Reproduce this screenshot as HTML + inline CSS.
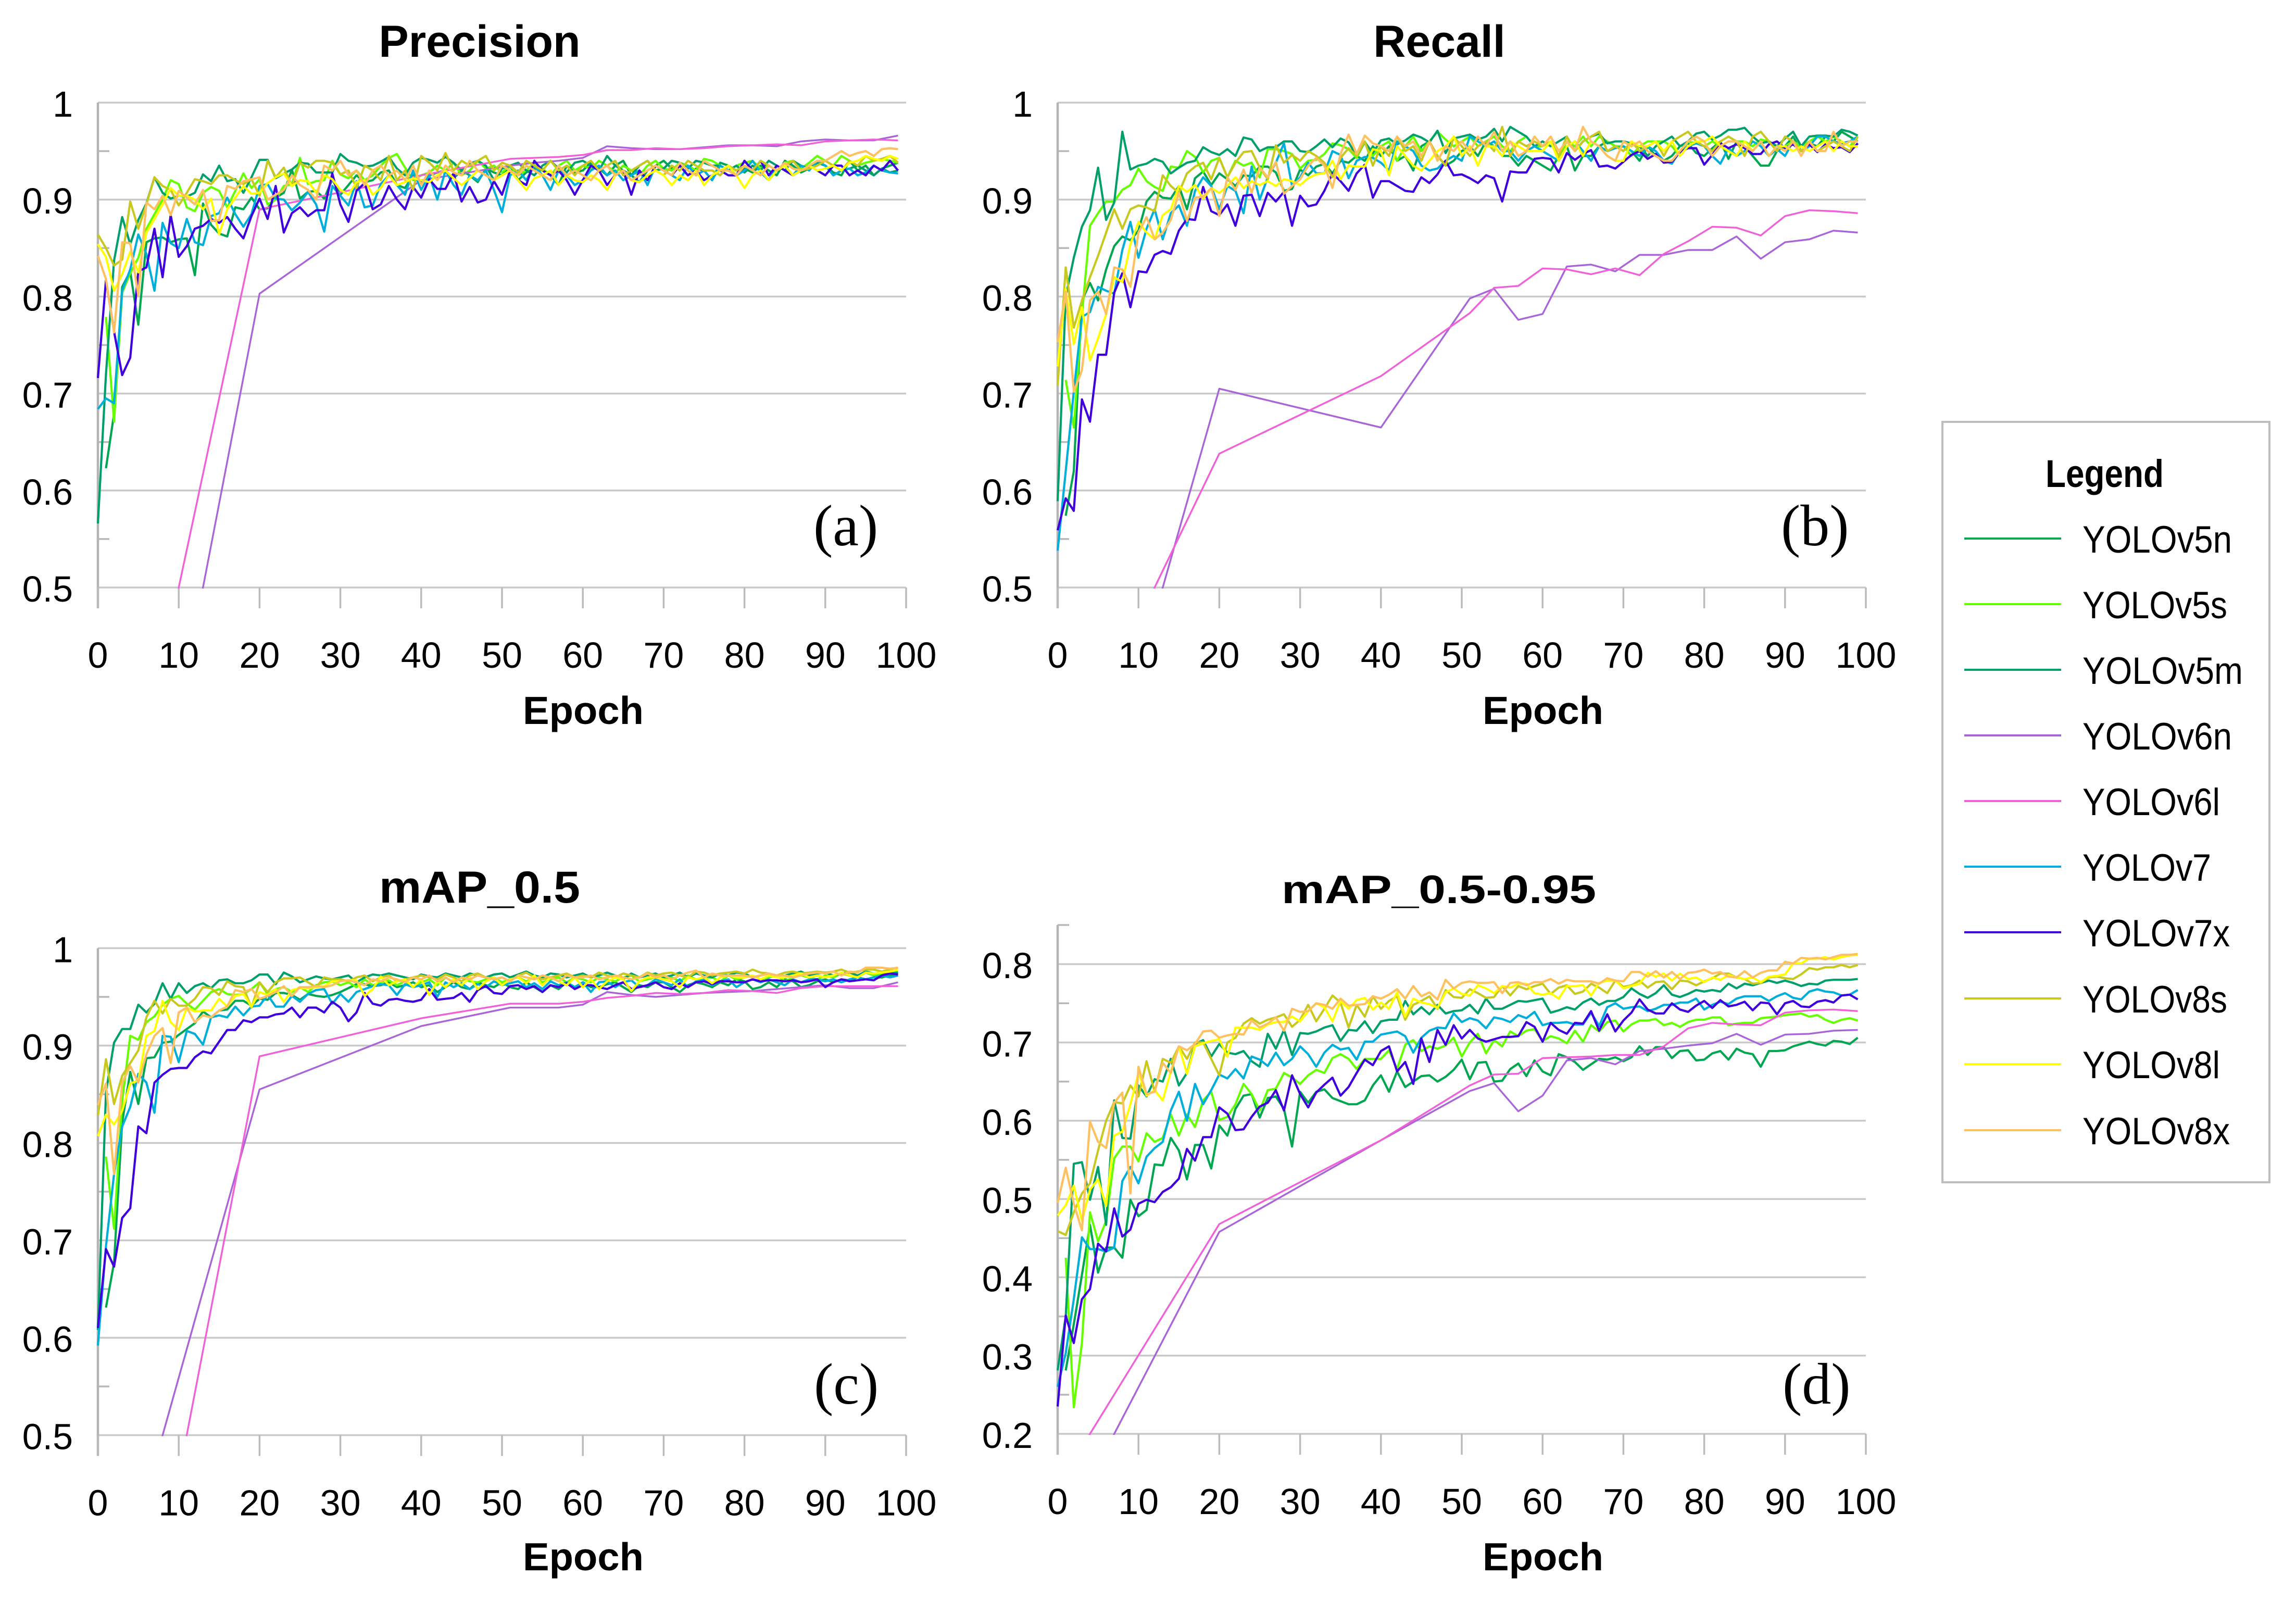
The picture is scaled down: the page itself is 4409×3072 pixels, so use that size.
<!DOCTYPE html>
<html lang="en">
<head>
<meta charset="utf-8">
<title>YOLO training metrics</title>
<style>
html,body{margin:0;padding:0;background:#fff;width:4409px;height:3072px;overflow:hidden}
svg{display:block}
text{font-family:"Liberation Sans",sans-serif;fill:#000}
.ttl{font-weight:bold;text-anchor:middle}
.tick{font-size:70px}
.serif{font-family:"Liberation Serif",serif;font-size:112px}
.leg{font-size:73px}
</style>
</head>
<body>
<svg id="chart" xmlns="http://www.w3.org/2000/svg" width="4409" height="3072" viewBox="0 0 4409 3072">
<rect x="0" y="0" width="4409" height="3072" fill="#fff"/>
<g id="panels"></g>
<text class="ttl" x="921" y="109" font-size="86">Precision</text>
<text class="ttl" x="2764" y="109" font-size="86">Recall</text>
<text class="ttl" x="921" y="1733" font-size="86" textLength="386" lengthAdjust="spacingAndGlyphs">mAP_0.5</text>
<text class="ttl" x="2763" y="1734" font-size="76" textLength="604" lengthAdjust="spacingAndGlyphs">mAP_0.5-0.95</text>
<text class="ttl" x="1120" y="1390" font-size="75" textLength="232" lengthAdjust="spacingAndGlyphs">Epoch</text>
<text class="ttl" x="2963" y="1390" font-size="75" textLength="232" lengthAdjust="spacingAndGlyphs">Epoch</text>
<text class="ttl" x="1120" y="3015" font-size="75" textLength="232" lengthAdjust="spacingAndGlyphs">Epoch</text>
<text class="ttl" x="2963" y="3015" font-size="75" textLength="232" lengthAdjust="spacingAndGlyphs">Epoch</text>
<text class="serif" x="1562" y="1047">(a)</text>
<text class="serif" x="3420" y="1047">(b)</text>
<text class="serif" x="1563" y="2695">(c)</text>
<text class="serif" x="3423" y="2695">(d)</text>
<g id="legend">
<rect x="3730" y="810" width="628" height="1460" fill="#fff" stroke="#bdbdbd" stroke-width="4"/>
<text x="3928" y="935" font-size="74" font-weight="bold" textLength="227" lengthAdjust="spacingAndGlyphs">Legend</text>
<g><line x1="3772" x2="3958" y1="1034" y2="1034" stroke="#00a650" stroke-width="4"/><text class="leg" x="3999" y="1061" textLength="287" lengthAdjust="spacingAndGlyphs">YOLOv5n</text></g>
<g><line x1="3772" x2="3958" y1="1160" y2="1160" stroke="#66ff00" stroke-width="4"/><text class="leg" x="3999" y="1187" textLength="278" lengthAdjust="spacingAndGlyphs">YOLOv5s</text></g>
<g><line x1="3772" x2="3958" y1="1286" y2="1286" stroke="#009f6b" stroke-width="4"/><text class="leg" x="3999" y="1313" textLength="308" lengthAdjust="spacingAndGlyphs">YOLOv5m</text></g>
<g><line x1="3772" x2="3958" y1="1412" y2="1412" stroke="#a864d8" stroke-width="4"/><text class="leg" x="3999" y="1439" textLength="287" lengthAdjust="spacingAndGlyphs">YOLOv6n</text></g>
<g><line x1="3772" x2="3958" y1="1538" y2="1538" stroke="#f060d8" stroke-width="4"/><text class="leg" x="3999" y="1565" textLength="264" lengthAdjust="spacingAndGlyphs">YOLOv6l</text></g>
<g><line x1="3772" x2="3958" y1="1664" y2="1664" stroke="#00aedb" stroke-width="4"/><text class="leg" x="3999" y="1691" textLength="247" lengthAdjust="spacingAndGlyphs">YOLOv7</text></g>
<g><line x1="3772" x2="3958" y1="1790" y2="1790" stroke="#3f00dd" stroke-width="4"/><text class="leg" x="3999" y="1817" textLength="283" lengthAdjust="spacingAndGlyphs">YOLOv7x</text></g>
<g><line x1="3772" x2="3958" y1="1917" y2="1917" stroke="#c8c81e" stroke-width="4"/><text class="leg" x="3999" y="1944" textLength="278" lengthAdjust="spacingAndGlyphs">YOLOv8s</text></g>
<g><line x1="3772" x2="3958" y1="2043" y2="2043" stroke="#ffff00" stroke-width="4"/><text class="leg" x="3999" y="2070" textLength="264" lengthAdjust="spacingAndGlyphs">YOLOv8l</text></g>
<g><line x1="3772" x2="3958" y1="2170" y2="2170" stroke="#ffc060" stroke-width="4"/><text class="leg" x="3999" y="2197" textLength="283" lengthAdjust="spacingAndGlyphs">YOLOv8x</text></g>
</g>
</svg>
<script>
// ---------- categories and tick labels ----------
const seriesNames = ['YOLOv5n','YOLOv5s','YOLOv5m','YOLOv6n','YOLOv6l','YOLOv7','YOLOv7x','YOLOv8s','YOLOv8l','YOLOv8x'];
const xTickLabels = [0,10,20,30,40,50,60,70,80,90,100];
const yTicksHigh = [0.5,0.6,0.7,0.8,0.9,1];
const yTicksLow = [0.2,0.3,0.4,0.5,0.6,0.7,0.8];
// YOLOv6 runs were only logged at these epochs
const v6Epochs = [0,20,40,51,54,57,60,63,66,69,72,75,78,81,84,87,90,93,96,99];
// the mAP_0.5 YOLOv6l line enters from below the axis; its first kept point is epoch 8
const map50V6lEpochs = [8,20,40,51,54,57,60,63,66,69,72,75,78,81,84,87,90,93,96,99];

// ---------- Precision ----------
const precisionV5n = [null,.623,.679,.81,.826,.771,.856,.86,.861,.856,
.859,.86,.822,.896,.874,.865,.862,.892,.89,.902,
.89,.891,.902,.907,.931,.901,.908,.909,.901,.921,
.905,.915,.925,.918,.92,.928,.93,.915,.912,.925,
.918,.925,.928,.93,.922,.93,.925,.918,.932,.928,
.925,.935,.92,.928,.932,.93,.925,.915,.935,.928,
.93,.938,.932,.925,.935,.94,.925,.918,.93,.935,
.94,.932,.935,.925,.932,.93,.92,.938,.935,.93,
.932,.928,.935,.93,.925,.94,.935,.928,.932,.938,
.935,.928,.925,.94,.93,.935,.925,.932,.935,.938];
const precisionV5s = [null,.779,.671,.804,.824,.84,.87,.885,.9,.92,
.916,.892,.888,.907,.913,.909,.892,.909,.927,.912,
.921,.895,.9,.914,.916,.943,.916,.919,.92,.94,
.926,.922,.93,.92,.925,.935,.943,.947,.933,.92,
.925,.928,.935,.93,.938,.925,.93,.94,.932,.935,
.928,.935,.925,.93,.938,.932,.925,.935,.94,.93,
.935,.932,.94,.935,.928,.935,.93,.925,.935,.94,
.932,.93,.938,.935,.93,.942,.94,.935,.93,.935,
.938,.94,.932,.935,.93,.938,.94,.932,.938,.945,
.94,.935,.945,.94,.935,.938,.94,.942,.94,.938];
const precisionV5m = [.566,.72,.837,.882,.854,.879,.896,.923,.907,.901,
.904,.903,.907,.926,.919,.935,.919,.921,.907,.923,
.941,.941,.922,.927,.931,.938,.937,.928,.928,.928,
.947,.94,.938,.934,.935,.939,.944,.932,.925,.938,
.943,.941,.938,.944,.938,.93,.937,.94,.935,.92,
.932,.935,.938,.93,.925,.935,.94,.932,.928,.938,
.94,.935,.93,.945,.935,.93,.925,.935,.94,.93,
.932,.94,.938,.932,.94,.938,.935,.935,.93,.935,
.928,.935,.93,.94,.935,.93,.94,.935,.932,.938,
.935,.925,.93,.932,.935,.93,.925,.932,.928,.93];
const precisionV6n = [-.063,.803,.92,.935,.938,.94,.943,.955,.953,.952,.952,.954,.956,.956,.955,.96,.962,.961,.961,.966];
const precisionV6l = [.11,.89,.925,.942,.943,.944,.946,.951,.951,.953,.952,.953,.955,.956,.957,.956,.96,.961,.962,.961];
const precisionV7 = [.684,.695,.69,.806,.828,.864,.844,.806,.876,.855,
.85,.88,.856,.853,.883,.886,.902,.885,.872,.885,
.914,.916,.901,.9,.889,.897,.908,.895,.867,.914,
.904,.894,.919,.892,.894,.916,.925,.915,.905,.93,
.91,.925,.9,.93,.915,.905,.925,.92,.93,.91,
.887,.925,.93,.92,.935,.925,.91,.93,.925,.915,
.92,.93,.935,.925,.93,.92,.925,.93,.915,.935,
.93,.925,.92,.935,.925,.93,.92,.935,.93,.925,
.93,.94,.928,.92,.935,.93,.925,.935,.93,.94,
.935,.925,.93,.932,.925,.928,.935,.93,.928,.927];
const precisionV7x = [.716,.817,.764,.719,.737,.826,.83,.87,.82,.884,
.841,.852,.87,.873,.88,.876,.882,.87,.86,.883,
.901,.88,.914,.866,.886,.892,.883,.889,.889,.927,
.895,.877,.909,.917,.89,.895,.914,.9,.89,.913,
.902,.921,.911,.911,.927,.898,.913,.897,.9,.919,
.905,.93,.92,.915,.94,.93,.925,.93,.92,.905,
.92,.935,.93,.915,.925,.93,.905,.93,.92,.935,
.93,.925,.935,.925,.93,.92,.925,.93,.925,.925,
.94,.93,.94,.925,.935,.93,.925,.93,.935,.93,
.925,.935,.935,.925,.93,.925,.935,.93,.94,.93];
const precisionV8s = [.864,.85,.832,.838,.898,.87,.895,.923,.914,.91,
.894,.907,.921,.919,.916,.925,.925,.92,.916,.921,
.904,.94,.923,.933,.914,.938,.933,.94,.94,.938,
.926,.93,.912,.935,.93,.92,.945,.92,.93,.91,
.945,.938,.93,.948,.93,.94,.935,.94,.945,.93,
.938,.935,.928,.94,.935,.93,.94,.93,.935,.925,
.935,.94,.93,.935,.94,.925,.93,.935,.94,.93,
.925,.935,.93,.94,.935,.93,.93,.925,.935,.93,
.935,.93,.94,.935,.93,.935,.94,.93,.932,.935,
.94,.935,.93,.94,.935,.945,.94,.942,.945,.938];
const precisionV8l = [.854,.841,.806,.823,.846,.825,.866,.88,.895,.912,
.904,.904,.9,.89,.901,.864,.89,.902,.914,.906,
.907,.917,.923,.927,.914,.92,.919,.907,.925,.921,
.91,.905,.918,.92,.905,.912,.925,.915,.918,.922,
.92,.918,.925,.93,.922,.915,.922,.93,.925,.92,
.925,.93,.92,.91,.922,.925,.93,.915,.925,.92,
.918,.925,.92,.91,.925,.93,.92,.918,.925,.93,
.925,.915,.925,.92,.93,.915,.925,.93,.935,.925,
.912,.925,.93,.92,.93,.935,.925,.93,.935,.93,
.932,.935,.93,.938,.94,.945,.942,.94,.945,.942];
const precisionV8x = [.842,.818,.763,.856,.855,.801,.897,.89,.904,.884,
.909,.902,.895,.91,.878,.879,.914,.911,.919,.921,
.923,.9,.905,.91,.925,.915,.91,.9,.935,.93,
.94,.925,.93,.915,.93,.935,.925,.93,.92,.935,
.915,.93,.92,.935,.928,.925,.94,.93,.925,.92,
.935,.93,.925,.935,.93,.925,.92,.935,.925,.93,
.925,.92,.93,.935,.925,.93,.92,.925,.93,.935,
.93,.925,.938,.93,.925,.94,.935,.93,.93,.925,
.935,.93,.925,.935,.93,.938,.932,.93,.935,.94,
.94,.945,.95,.945,.948,.95,.945,.952,.953,.952];

// ---------- Recall ----------
const recallV5n = [null,.574,.62,.796,.814,.796,.828,.852,.862,.858,
.868,.898,.908,.902,.901,.914,.89,.922,.929,.915,
.927,.921,.914,.925,.924,.934,.934,.928,.909,.911,
.931,.925,.934,.937,.927,.94,.938,.945,.94,.955,
.945,.955,.94,.945,.93,.955,.96,.945,.935,.94,
.95,.955,.945,.96,.955,.945,.945,.935,.945,.94,
.935,.93,.945,.955,.93,.945,.945,.955,.96,.955,
.955,.95,.94,.955,.945,.94,.945,.955,.958,.948,
.945,.953,.96,.942,.96,.955,.945,.935,.935,.95,
.955,.965,.95,.958,.955,.965,.96,.97,.965,.96];
const recallV5s = [null,.714,.665,.78,.873,.886,.898,.898,.91,.915,
.932,.919,.913,.909,.934,.933,.95,.944,.928,.94,
.943,.923,.94,.935,.938,.923,.952,.952,.95,.947,
.932,.94,.941,.947,.958,.956,.952,.943,.96,.945,
.955,.96,.94,.955,.965,.95,.96,.97,.962,.955,
.96,.965,.955,.96,.965,.955,.95,.96,.965,.955,
.955,.96,.945,.96,.955,.965,.955,.965,.96,.955,
.955,.945,.955,.96,.96,.96,.955,.945,.96,.958,
.955,.96,.955,.96,.96,.96,.955,.962,.96,.955,
.955,.96,.955,.96,.965,.96,.965,.96,.955,.965];
const recallV5m = [.589,.8,.84,.872,.889,.933,.879,.897,.97,.931,
.935,.937,.942,.939,.927,.933,.938,.94,.954,.949,
.946,.952,.945,.964,.962,.95,.954,.954,.96,.96,
.95,.949,.955,.962,.954,.963,.959,.945,.959,.948,
.961,.963,.957,.961,.967,.964,.959,.971,.948,.963,
.965,.967,.962,.965,.973,.96,.975,.97,.965,.955,
.96,.955,.96,.965,.95,.96,.965,.968,.958,.96,
.96,.958,.955,.945,.955,.96,.965,.955,.96,.968,
.97,.962,.966,.972,.972,.974,.965,.958,.96,.955,
.963,.97,.955,.965,.966,.966,.965,.972,.97,.966];
const recallV6n = [.119,.705,.665,.798,.808,.776,.782,.831,.833,.826,.843,.843,.848,.848,.862,.839,.856,.859,.868,.866];
const recallV6l = [.293,.638,.718,.783,.809,.811,.829,.828,.823,.829,.822,.844,.857,.872,.871,.863,.883,.889,.888,.886];
const recallV7 = [.538,.62,.702,.779,.784,.81,.806,.803,.848,.877,
.84,.87,.89,.859,.886,.894,.873,.909,.923,.914,
.89,.914,.909,.886,.934,.9,.923,.938,.958,.914,
.923,.938,.927,.927,.95,.946,.922,.94,.944,.943,
.938,.93,.96,.955,.95,.935,.93,.932,.94,.945,
.94,.965,.96,.955,.96,.95,.95,.94,.95,.955,
.95,.945,.94,.955,.96,.95,.94,.955,.95,.953,
.955,.95,.945,.955,.95,.94,.937,.95,.955,.958,
.955,.945,.937,.953,.945,.95,.96,.955,.945,.952,
.945,.96,.95,.955,.965,.965,.96,.958,.96,.965];
const recallV7x = [.559,.592,.579,.694,.671,.74,.74,.804,.824,.789,
.826,.825,.843,.847,.844,.868,.88,.879,.913,.888,
.884,.895,.873,.904,.905,.883,.907,.898,.908,.873,
.904,.893,.895,.909,.927,.919,.909,.927,.936,.902,
.919,.919,.914,.909,.908,.923,.917,.926,.94,.925,
.926,.922,.917,.925,.922,.898,.929,.928,.928,.942,
.943,.942,.928,.948,.941,.947,.951,.934,.935,.932,
.939,.946,.95,.942,.947,.938,.939,.949,.953,.953,
.936,.946,.958,.953,.957,.953,.947,.947,.957,.96,
.953,.957,.95,.957,.949,.957,.953,.954,.949,.958];
const recallV8s = [.709,.83,.768,.796,.82,.842,.866,.89,.87,.89,
.894,.892,.888,.925,.914,.907,.927,.934,.938,.921,
.943,.923,.938,.949,.95,.933,.921,.956,.938,.946,
.94,.95,.945,.938,.923,.943,.953,.945,.96,.935,
.955,.945,.965,.95,.955,.94,.96,.945,.935,.965,
.955,.945,.955,.96,.95,.975,.945,.96,.955,.96,
.955,.96,.945,.965,.95,.96,.965,.97,.95,.955,
.95,.96,.95,.955,.96,.945,.96,.965,.97,.96,
.955,.95,.96,.965,.96,.945,.965,.97,.96,.95,
.965,.96,.95,.96,.95,.955,.96,.955,.95,.965];
const recallV8l = [.728,.808,.751,.789,.734,.757,.782,.82,.815,.854,
.877,.866,.859,.884,.89,.914,.908,.915,.901,.912,
.907,.914,.923,.912,.919,.915,.919,.914,.921,.919,
.915,.922,.926,.927,.94,.921,.935,.934,.934,.952,
.95,.925,.955,.945,.935,.93,.94,.95,.955,.965,
.945,.955,.935,.955,.955,.945,.96,.955,.95,.95,
.95,.96,.94,.955,.96,.945,.96,.955,.945,.94,
.94,.96,.955,.955,.96,.95,.96,.945,.955,.96,
.96,.965,.955,.95,.945,.96,.95,.96,.945,.955,
.955,.95,.955,.95,.955,.96,.95,.96,.955,.955];
const recallV8x = [.753,.805,.702,.724,.796,.805,.782,.83,.828,.81,
.866,.882,.859,.866,.879,.907,.878,.902,.903,.912,
.883,.923,.91,.931,.907,.933,.923,.939,.906,.914,
.921,.935,.943,.935,.912,.947,.967,.947,.966,.958,
.955,.95,.965,.955,.96,.945,.96,.94,.955,.95,
.96,.95,.965,.955,.97,.95,.96,.945,.95,.965,
.955,.965,.95,.96,.95,.975,.96,.955,.945,.94,
.96,.955,.96,.95,.945,.94,.94,.95,.96,.965,
.96,.945,.955,.96,.96,.955,.95,.96,.945,.955,
.95,.96,.945,.96,.95,.95,.97,.955,.96,.96];

// ---------- mAP_0.5 ----------
const map50V5n = [null,.631,.677,.821,.873,.84,.887,.888,.903,.904,
.911,.917,.923,.935,.929,.936,.937,.946,.946,.941,
.948,.947,.954,.954,.952,.947,.953,.951,.95,.952,
.955,.959,.963,.963,.961,.962,.965,.96,.962,.965,
.96,.962,.955,.96,.965,.96,.958,.965,.962,.96,
.965,.96,.958,.965,.96,.955,.962,.958,.965,.96,
.965,.96,.96,.963,.965,.96,.955,.962,.96,.965,
.965,.96,.955,.962,.965,.963,.96,.965,.962,.968,
.966,.958,.96,.965,.96,.968,.966,.96,.962,.966,
.968,.965,.968,.967,.97,.968,.97,.97,.972,.972];
const map50V5s = [null,.786,.712,.843,.91,.906,.924,.93,.942,.948,
.951,.943,.937,.946,.955,.958,.953,.952,.953,.958,
.965,.953,.958,.96,.955,.96,.955,.962,.965,.966,
.962,.965,.96,.968,.962,.965,.967,.962,.966,.96,
.965,.968,.962,.97,.965,.97,.966,.965,.968,.97,
.965,.968,.97,.966,.97,.965,.968,.97,.965,.97,
.968,.965,.97,.968,.966,.97,.972,.966,.968,.97,
.968,.97,.966,.972,.968,.97,.97,.966,.972,.968,
.97,.972,.968,.97,.972,.966,.97,.972,.97,.968,
.972,.97,.974,.972,.97,.975,.972,.974,.975,.976];
const map50V5m = [.608,.852,.903,.917,.917,.942,.934,.943,.964,.948,
.964,.954,.961,.964,.959,.967,.968,.964,.964,.967,
.973,.973,.963,.975,.971,.965,.968,.971,.969,.968,
.97,.972,.965,.97,.973,.972,.974,.972,.97,.968,
.973,.971,.97,.974,.972,.97,.974,.972,.97,.973,
.974,.97,.973,.976,.972,.97,.974,.973,.97,.972,
.974,.97,.972,.975,.972,.968,.974,.97,.972,.974,
.97,.972,.975,.97,.974,.972,.97,.974,.972,.975,
.974,.97,.972,.974,.97,.972,.974,.976,.972,.974,
.975,.972,.974,.975,.972,.976,.974,.975,.974,.975];
const map50V6n = [.263,.855,.92,.939,.939,.939,.942,.955,.952,.95,.952,.954,.955,.956,.958,.96,.962,.959,.959,.965];
const map50V6l = [.371,.889,.928,.943,.943,.943,.945,.949,.951,.954,.953,.954,.957,.956,.954,.959,.961,.961,.961,.961];
const map50V7 = [.592,.694,.768,.817,.837,.871,.862,.831,.91,.909,
.883,.915,.912,.901,.929,.931,.929,.94,.931,.94,
.941,.952,.94,.94,.951,.945,.953,.957,.958,.943,
.953,.945,.955,.958,.961,.963,.962,.952,.963,.96,
.962,.965,.95,.965,.96,.964,.958,.963,.96,.966,
.962,.964,.966,.96,.964,.958,.966,.962,.965,.96,
.965,.955,.965,.966,.96,.965,.967,.96,.962,.968,
.965,.962,.968,.96,.966,.968,.962,.966,.968,.96,
.965,.968,.965,.968,.965,.962,.968,.965,.968,.968,
.966,.968,.965,.968,.97,.968,.97,.972,.97,.972];
const map50V7x = [.61,.691,.673,.723,.733,.817,.81,.862,.87,.876,
.877,.877,.888,.894,.892,.904,.916,.916,.926,.924,
.929,.929,.932,.933,.939,.929,.939,.939,.934,.945,
.939,.925,.934,.954,.943,.941,.947,.948,.946,.945,
.947,.958,.947,.948,.949,.954,.945,.957,.961,.954,
.953,.961,.962,.958,.961,.955,.962,.96,.964,.958,
.962,.962,.96,.958,.962,.965,.958,.96,.962,.965,
.96,.958,.964,.96,.965,.966,.963,.966,.966,.965,
.965,.968,.966,.967,.967,.966,.967,.965,.966,.968,
.96,.965,.968,.966,.967,.968,.967,.972,.974,.973];
const map50V8s = [.828,.886,.84,.869,.882,.895,.929,.946,.933,.948,
.941,.941,.948,.96,.959,.952,.966,.961,.96,.939,
.965,.955,.965,.969,.969,.97,.965,.96,.97,.968,
.968,.966,.97,.972,.966,.97,.972,.966,.968,.97,
.972,.97,.968,.973,.97,.966,.972,.974,.97,.968,
.97,.966,.972,.975,.97,.968,.97,.972,.974,.97,
.972,.97,.975,.972,.97,.974,.972,.97,.975,.972,
.974,.975,.972,.97,.976,.975,.972,.974,.975,.976,
.974,.978,.975,.974,.972,.975,.976,.974,.975,.976,
.975,.976,.978,.975,.976,.978,.978,.976,.978,.98];
const map50V8l = [.807,.829,.819,.833,.861,.864,.91,.915,.946,.924,
.916,.939,.935,.936,.936,.948,.94,.951,.953,.94,
.955,.952,.958,.945,.957,.959,.959,.96,.961,.966,
.966,.967,.967,.951,.958,.971,.962,.966,.968,.96,
.968,.952,.966,.96,.968,.962,.97,.958,.966,.97,
.962,.968,.97,.964,.972,.962,.97,.966,.962,.97,
.96,.968,.958,.966,.97,.968,.956,.966,.97,.97,
.968,.966,.96,.97,.968,.97,.964,.97,.972,.97,
.97,.972,.968,.972,.97,.97,.972,.974,.97,.972,
.97,.972,.975,.972,.97,.975,.974,.975,.976,.978];
const map50V8x = [.839,.861,.768,.862,.879,.862,.891,.91,.918,.882,
.934,.939,.924,.931,.929,.936,.94,.957,.955,.958,
.948,.951,.955,.961,.951,.96,.96,.961,.96,.962,
.966,.967,.965,.962,.968,.966,.97,.968,.965,.97,
.968,.972,.966,.97,.965,.97,.968,.972,.97,.968,
.97,.966,.972,.97,.968,.972,.97,.966,.972,.97,
.97,.972,.968,.97,.972,.97,.968,.97,.974,.97,
.972,.968,.972,.975,.977,.97,.974,.972,.972,.972,
.972,.97,.972,.974,.972,.972,.97,.972,.974,.975,
.974,.976,.972,.976,.975,.98,.98,.98,.979,.98];

// ---------- mAP_0.5-0.95 ----------
const map95V5n = [null,.281,.34,.403,.467,.406,.438,.438,.425,.499,
.478,.486,.544,.543,.578,.562,.525,.569,.569,.539,
.594,.581,.615,.632,.634,.604,.629,.631,.615,.567,
.637,.623,.637,.64,.629,.625,.621,.621,.626,.645,
.658,.637,.663,.643,.65,.657,.658,.65,.656,.665,
.678,.653,.674,.675,.65,.651,.666,.673,.657,.677,
.663,.658,.685,.681,.675,.665,.672,.679,.678,.681,
.676,.681,.695,.684,.694,.694,.68,.689,.69,.677,
.678,.686,.689,.678,.692,.687,.685,.669,.689,.689,
.69,.695,.698,.701,.698,.696,.702,.701,.698,.706];
const map95V5s = [null,.425,.234,.316,.483,.446,.472,.552,.567,.567,
.548,.584,.573,.578,.608,.581,.608,.592,.626,.637,
.601,.605,.621,.647,.634,.613,.639,.641,.661,.655,
.647,.658,.665,.661,.68,.685,.679,.666,.679,.679,
.679,.69,.666,.697,.703,.689,.695,.692,.696,.706,
.682,.7,.711,.686,.703,.695,.714,.708,.715,.717,
.702,.708,.705,.699,.715,.701,.722,.714,.726,.728,
.714,.723,.728,.728,.73,.722,.725,.72,.726,.729,
.729,.732,.732,.722,.724,.725,.725,.731,.732,.733,
.735,.736,.737,.733,.735,.729,.725,.729,.731,.728];
const map95V5m = [.281,.35,.545,.547,.499,.541,.467,.626,.578,.577,
.645,.631,.653,.65,.679,.645,.661,.698,.703,.682,
.698,.687,.685,.689,.676,.669,.711,.692,.716,.684,
.712,.711,.714,.719,.722,.702,.716,.715,.727,.712,
.727,.729,.729,.753,.736,.745,.736,.748,.737,.74,
.741,.748,.737,.756,.743,.743,.748,.753,.752,.754,
.756,.738,.741,.745,.742,.751,.756,.748,.753,.753,
.758,.769,.762,.757,.763,.773,.761,.758,.762,.767,
.765,.767,.765,.775,.769,.775,.773,.776,.779,.776,
.779,.776,.772,.775,.774,.779,.78,.78,.78,.781];
const map95V6n = [.061,.458,.575,.638,.648,.612,.632,.677,.68,.672,.689,.692,.696,.699,.711,.697,.71,.711,.715,.716];
const map95V6l = [.133,.468,.575,.645,.659,.66,.68,.681,.682,.684,.684,.695,.718,.725,.723,.722,.738,.741,.742,.74];
const map95V7 = [.26,.303,.372,.451,.436,.436,.433,.438,.523,.541,
.52,.554,.565,.573,.613,.637,.6,.647,.621,.639,
.659,.654,.666,.654,.682,.678,.67,.687,.671,.679,
.695,.685,.669,.687,.697,.691,.693,.678,.701,.701,
.71,.712,.714,.708,.687,.706,.715,.719,.718,.737,
.726,.731,.728,.718,.732,.73,.726,.735,.731,.739,
.722,.725,.725,.726,.723,.723,.738,.721,.745,.75,
.743,.745,.746,.74,.743,.748,.748,.751,.751,.756,
.742,.748,.752,.749,.756,.759,.759,.759,.753,.759,
.763,.757,.755,.765,.768,.765,.764,.76,.761,.767];
const map95V7x = [.235,.351,.316,.372,.385,.443,.433,.488,.452,.461,
.494,.499,.496,.509,.515,.526,.564,.549,.579,.579,
.617,.609,.588,.589,.605,.618,.623,.639,.613,.658,
.634,.617,.636,.646,.655,.632,.643,.661,.678,.671,
.689,.695,.663,.675,.647,.705,.675,.716,.697,.722,
.705,.716,.705,.701,.704,.707,.707,.708,.726,.72,
.701,.725,.716,.711,.725,.724,.74,.715,.736,.714,
.728,.738,.755,.742,.737,.737,.75,.742,.739,.747,
.753,.744,.754,.746,.748,.752,.741,.751,.75,.736,
.75,.753,.746,.745,.752,.754,.751,.76,.761,.755];
const map95V8s = [.459,.454,.483,.507,.52,.562,.6,.624,.622,.645,
.631,.676,.637,.679,.674,.695,.679,.7,.7,.679,
.658,.7,.706,.724,.731,.724,.729,.732,.736,.72,
.729,.748,.727,.743,.76,.751,.719,.748,.733,.759,
.743,.753,.759,.729,.748,.753,.759,.743,.767,.758,
.757,.768,.763,.757,.758,.772,.76,.772,.768,.772,
.775,.762,.77,.773,.762,.765,.775,.77,.763,.779,
.771,.773,.779,.77,.777,.778,.768,.779,.778,.773,
.778,.782,.788,.788,.783,.781,.775,.776,.783,.784,
.782,.781,.787,.795,.793,.796,.796,.799,.796,.799];
const map95V8l = [.479,.492,.517,.472,.512,.525,.491,.581,.586,.621,
.661,.632,.639,.626,.663,.695,.66,.695,.699,.702,
.704,.682,.719,.719,.719,.716,.723,.726,.726,.733,
.727,.74,.75,.745,.727,.753,.743,.754,.757,.742,
.751,.743,.764,.733,.756,.751,.749,.744,.764,.769,
.762,.76,.773,.769,.763,.772,.77,.775,.775,.763,
.761,.763,.756,.772,.772,.773,.76,.776,.779,.779,
.769,.772,.775,.789,.784,.788,.779,.788,.781,.783,
.777,.783,.78,.786,.783,.781,.783,.777,.784,.785,
.787,.801,.801,.807,.807,.809,.806,.809,.811,.812];
const map95V8x = [.495,.54,.494,.46,.599,.573,.565,.623,.636,.507,
.669,.634,.637,.674,.661,.695,.69,.698,.714,.715,
.706,.709,.711,.71,.728,.719,.724,.732,.715,.743,
.739,.74,.75,.748,.743,.756,.747,.748,.749,.759,
.756,.761,.768,.756,.772,.759,.764,.755,.78,.769,
.776,.778,.776,.776,.777,.763,.776,.777,.773,.777,
.777,.781,.775,.78,.778,.778,.778,.775,.782,.779,
.778,.79,.79,.784,.791,.783,.79,.781,.789,.79,
.793,.788,.79,.784,.783,.791,.783,.789,.792,.792,
.803,.801,.808,.807,.808,.806,.809,.812,.812,.813];

// ---------- rendering ----------
const NS = 'http://www.w3.org/2000/svg';
const seriesColors = ['#00a650','#66ff00','#009f6b','#a864d8','#f060d8','#00aedb','#3f00dd','#c8c81e','#ffff00','#ffc060'];
const panels = [
  {key:'precision', left:188, right:1740, top:197, bottom:1128, yMin:.5, yMax:1, yTicks:yTicksHigh,
   series:[precisionV5n,precisionV5s,precisionV5m,precisionV6n,precisionV6l,precisionV7,precisionV7x,precisionV8s,precisionV8l,precisionV8x]},
  {key:'recall', left:2031, right:3583, top:197, bottom:1128, yMin:.5, yMax:1, yTicks:yTicksHigh,
   series:[recallV5n,recallV5s,recallV5m,recallV6n,recallV6l,recallV7,recallV7x,recallV8s,recallV8l,recallV8x]},
  {key:'map50', left:188, right:1740, top:1820.5, bottom:2755.5, yMin:.5, yMax:1, yTicks:yTicksHigh,
   series:[map50V5n,map50V5s,map50V5m,map50V6n,map50V6l,map50V7,map50V7x,map50V8s,map50V8l,map50V8x]},
  {key:'map50-95', left:2031, right:3583, top:1776, bottom:2753, yMin:.2, yMax:.85, yTicks:yTicksLow,
   series:[map95V5n,map95V5s,map95V5m,map95V6n,map95V6l,map95V7,map95V7x,map95V8s,map95V8l,map95V8x]}
];
const xAxisMax = 100;
function xScale(p, epoch){ return p.left + (p.right - p.left) * epoch / xAxisMax; }
function yScale(p, value){ return p.bottom - (p.bottom - p.top) * (value - p.yMin) / (p.yMax - p.yMin); }
function epochsFor(values){
  if (values === map50V6l) return map50V6lEpochs;
  return values.length === v6Epochs.length ? v6Epochs : null;
}
function make(parent, tag, props){
  const el = document.createElementNS(NS, tag);
  for (const k in props) el.setAttribute(k, props[k]);
  parent.appendChild(el);
  return el;
}
const root = document.getElementById('panels');
const svgRoot = document.getElementById('chart');
const defs = make(svgRoot, 'defs', {});
panels.forEach(function(p){
  const g = make(root, 'g', {});
  
  
  const clip = make(defs, 'clipPath', {id:'clip-' + p.key});
  make(clip, 'rect', {x:p.left - 4, y:p.top - 10, width:p.right - p.left + 8, height:p.bottom - p.top + 12});

  // major gridlines and y labels
  p.yTicks.forEach(function(v){
    const y = yScale(p, v);
    const grid = make(g, 'line', {x1:p.left, x2:p.right, y1:y, y2:y, stroke:'#c9c9c9', 'stroke-width':3.5});
    
    
    const label = make(g, 'text', {x:p.left - 48, y:y + 27, class:'tick', 'text-anchor':'end'});
    label.textContent = String(v);
    
    
  });
  // minor ticks halfway between the major ticks
  const step = p.yTicks[1] - p.yTicks[0];
  p.yTicks.forEach(function(v){
    const m = v + step / 2;
    if (m <= p.yMax + 1e-9) {
      const ym = yScale(p, m);
      const minor = make(g, 'line', {x1:p.left, x2:p.left + 22, y1:ym, y2:ym, stroke:'#b8b8b8', 'stroke-width':3.5});
      
      
    }
  });
  // axes
  const yAxis = make(g, 'line', {x1:p.left, x2:p.left, y1:p.top, y2:p.bottom + 40, stroke:'#b4b4b4', 'stroke-width':4.5});
  
  
  xTickLabels.forEach(function(t){
    const x = xScale(p, t);
    const tick = make(g, 'line', {x1:x, x2:x, y1:p.bottom, y2:p.bottom + 40, stroke:'#bbbbbb', 'stroke-width':3.5});
    
    
    const label = make(g, 'text', {x:x, y:p.bottom + 154, class:'tick', 'text-anchor':'middle'});
    label.textContent = String(t);
    
    
  });
  // series
  const lines = make(g, 'g', {'clip-path':'url(#clip-' + p.key + ')'});
  p.series.forEach(function(values, s){
    const epochs = epochsFor(values);
    let d = '';
    values.forEach(function(v, i){
      if (v === null) return;
      const epoch = epochs ? epochs[i] : i;
      d += (d ? 'L' : 'M') + xScale(p, epoch).toFixed(1) + ' ' + yScale(p, v).toFixed(1);
    });
    const path = make(lines, 'path', {d:d, fill:'none', stroke:seriesColors[s], 'stroke-width':epochs ? 3.4 : 4.2, 'stroke-linejoin':'round'});
    
    
  });
});
</script>
</body>
</html>
